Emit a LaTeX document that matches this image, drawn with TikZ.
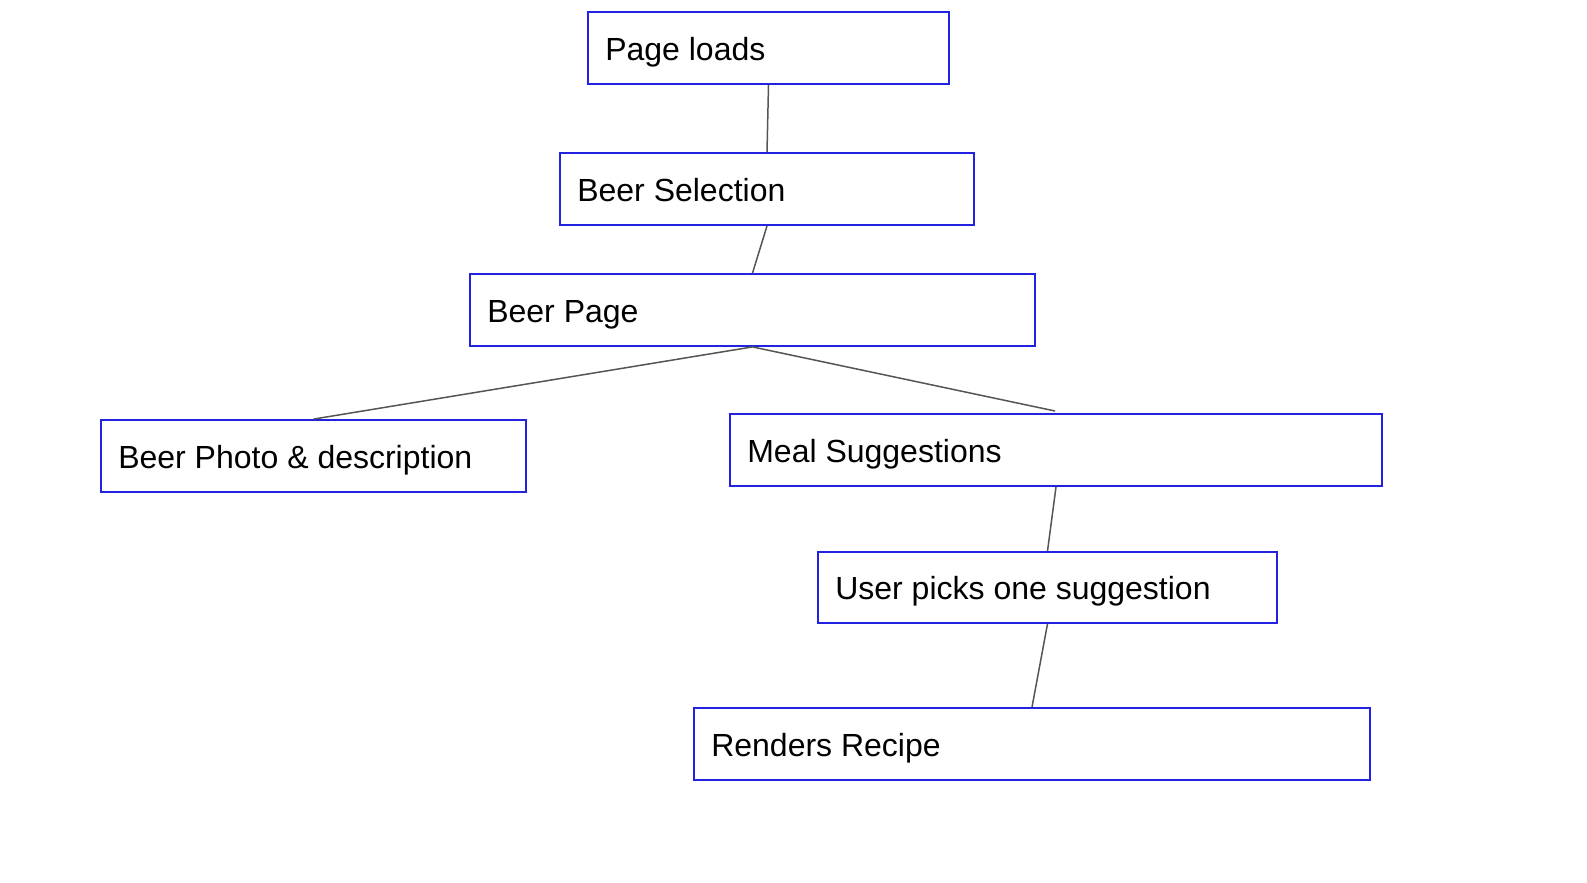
\documentclass[tikz,border=0pt]{standalone}
\usepackage{fontspec}
\setmainfont{Liberation Sans}
\definecolor{boxblue}{RGB}{34,34,224}
\definecolor{linkgray}{RGB}{85,85,85}
\begin{document}
\begin{tikzpicture}[x=1pt,y=-1pt,
  stepbox/.style={draw=boxblue, line width=1.8pt, fill=white, inner sep=0pt, minimum height=72pt},
  boxtext/.style={anchor=base west, inner sep=0pt, font=\fontsize{32}{38}\selectfont, text=black},
  link/.style={draw=linkgray, line width=1.5pt}]
\useasboundingbox[fill=white] (0,0) rectangle (1587,883);
% boxes
\node[stepbox, minimum width=361pt] (load) at (768.5,48) {};
\node[stepbox, minimum width=414pt] (sel) at (767,189) {};
\node[stepbox, minimum width=565pt] (page) at (752.5,310) {};
\node[stepbox, minimum width=425pt] (photo) at (313.5,456) {};
\node[stepbox, minimum width=652pt] (meal) at (1056,450) {};
\node[stepbox, minimum width=459pt, minimum height=71pt] (pick) at (1047.5,587.5) {};
\node[stepbox, minimum width=676pt] (recipe) at (1032,744) {};
% texts
\node[boxtext] (tload) at ([xshift=18pt,yshift=-12pt]load.west) {Page loads};
\node[boxtext] (tsel) at ([xshift=18pt,yshift=-12pt]sel.west) {Beer Selection};
\node[boxtext] (tpage) at ([xshift=18pt,yshift=-12pt]page.west) {Beer Page};
\node[boxtext] (tphoto) at ([xshift=18pt,yshift=-12pt]photo.west) {Beer Photo \& description};
\node[boxtext] (tmeal) at ([xshift=18pt,yshift=-12pt]meal.west) {Meal Suggestions};
\node[boxtext] (tpick) at ([xshift=18pt,yshift=-12pt]pick.west) {User picks one suggestion};
\node[boxtext] (trecipe) at ([xshift=18pt,yshift=-12pt]recipe.west) {Renders Recipe};
% connectors
\coordinate (mealend) at (1055,411);
\draw[link] (load.south) -- (sel.north);
\draw[link] (sel.south) -- (page.north);
\draw[link] (page.south) -- (photo.north);
\draw[link] (page.south) -- (mealend);
\draw[link] (meal.south) -- (pick.north);
\draw[link] (pick.south) -- (recipe.north);
\end{tikzpicture}
\end{document}
